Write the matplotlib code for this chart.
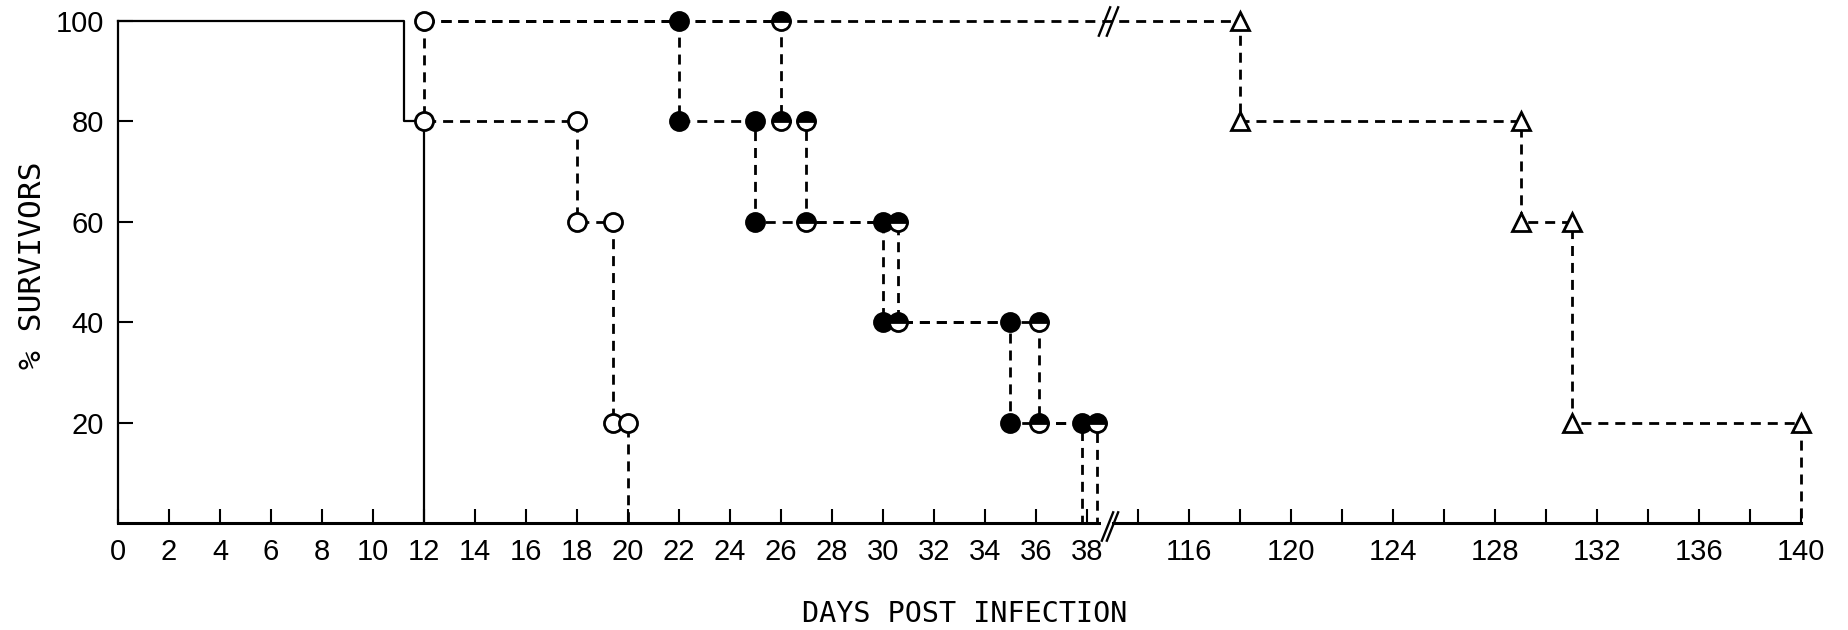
import numpy as np
import matplotlib
matplotlib.use("Agg")
import matplotlib.pyplot as plt

# ---------------- data (days post infection, % survivors) ----------------
solid_start = 0
solid_days = [11.2, 12]
solid_levels = [80, 0]

open_start = 12
open_days = [12, 18, 19.4, 20]
open_levels = [80, 60, 20, 0]

filled_start = 12
filled_days = [22, 25, 30, 35, 37.8]
filled_levels = [80, 60, 40, 20, 0]

half_start = 12
half_days = [26, 27, 30.6, 36.1, 38.4]
half_levels = [80, 60, 40, 20, 0]

tri_start = 12
tri_days = [118, 129, 131, 140]
tri_levels = [80, 60, 20, 0]

left_ticks = list(range(0, 39, 2))
right_ticks = list(range(114, 141, 2))
right_labels = [str(t) if t % 4 == 0 else "" for t in right_ticks]
y_ticks = [20, 40, 60, 80, 100]

# ---------------- broken x scale ----------------
BREAK_LO, BREAK_HI = 39.0, 113.0
_src = [-1e4, BREAK_LO, BREAK_HI, 1e4]
_dst = [-1e4, BREAK_LO, BREAK_LO + 1e-3, 1e4 - (BREAK_HI - BREAK_LO) + 1e-3]


def fwd(x):
    return np.interp(np.asarray(x, float), _src, _dst)


def inv(y):
    return np.interp(np.asarray(y, float), _dst, _src)


def km_path(start, days, levels, start_level=100):
    xs, ys, mx, my = [start], [start_level], [], []
    prev = start_level
    for d, s in zip(days, levels):
        xs += [d, d]
        ys += [prev, s]
        mx.append(d)
        my.append(prev)
        if s > 0:
            mx.append(d)
            my.append(s)
        prev = s
    return xs, ys, mx, my


fig = plt.figure(figsize=(18.48, 6.3), dpi=100)
ax = fig.add_axes([118 / 1848, 1 - 523 / 630, 1683 / 1848, 502 / 630])
ax.set_xscale("function", functions=(fwd, inv))
ax.set_xlim(0, 140)
ax.set_ylim(0, 100)

LW = 2.0
DASH = (3.6, 2.5)
MS = 13

# solid curve
xs, ys, _, _ = km_path(solid_start, solid_days, solid_levels)
ax.plot(xs, ys, color="black", lw=1.6, clip_on=False, zorder=2)

# dashed curves
series = [
    (open_start, open_days, open_levels, dict(marker="o", mfc="white")),
    (filled_start, filled_days, filled_levels, dict(marker="o", mfc="black")),
    (half_start, half_days, half_levels,
     dict(marker="o", fillstyle="top", mfc="black", markerfacecoloralt="white")),
    (tri_start, tri_days, tri_levels, dict(marker="^", mfc="white")),
]
for start, days, levels, mkw in series:
    xs, ys, mx, my = km_path(start, days, levels)
    ax.plot(xs, ys, color="black", lw=LW, dashes=DASH, clip_on=False, zorder=2)
    ax.plot(mx, my, ls="none", ms=MS, mec="black", mew=2.0, clip_on=False,
            zorder=4, **mkw)

# axes styling
for s in ("top", "right"):
    ax.spines[s].set_visible(False)
ax.spines["left"].set_bounds(0, 100)
ax.spines["left"].set_linewidth(1.6)
ax.spines["bottom"].set_linewidth(2.2)

xt = left_ticks + right_ticks
xl = [str(t) for t in left_ticks] + right_labels
ax.set_xticks(xt)
ax.set_xticklabels(xl)
ax.xaxis.set_minor_locator(matplotlib.ticker.NullLocator())
ax.set_yticks(y_ticks)
ax.set_yticklabels([str(v) for v in y_ticks])
ax.tick_params(axis="x", direction="in", length=10, width=1.5, pad=11,
               labelsize=21)
ax.tick_params(axis="y", direction="in", length=11, width=1.5, pad=10,
               labelsize=21)
for lab in ax.get_xticklabels() + ax.get_yticklabels():
    lab.set_family("Liberation Sans")

# break marks
slash = [(-0.4, -1), (0.4, 1)]
xb = BREAK_LO
ax.plot([xb - 0.45, xb + 0.45], [0, 0], color="white", lw=4, clip_on=False,
        zorder=5, solid_capstyle="butt")
for dx in (-0.2, 0.2):
    ax.plot([xb + dx], [-0.5], marker=slash, ms=22, mew=1.7, color="black",
            ls="none", clip_on=False, zorder=6)
    ax.plot([xb + dx - 0.15], [100], marker=slash, ms=22, mew=1.7,
            color="black", ls="none", clip_on=False, zorder=6)

fig.text(965 / 1848, 16 / 630, "DAYS POST INFECTION", ha="center", va="center",
         family="DejaVu Sans Mono", fontsize=20.5)
fig.text(33 / 1848, 1 - 265 / 630, "% SURVIVORS", ha="center", va="center",
         rotation=90, family="DejaVu Sans Mono", fontsize=22.5)

fig.savefig("out.png", dpi=100, facecolor="white")
